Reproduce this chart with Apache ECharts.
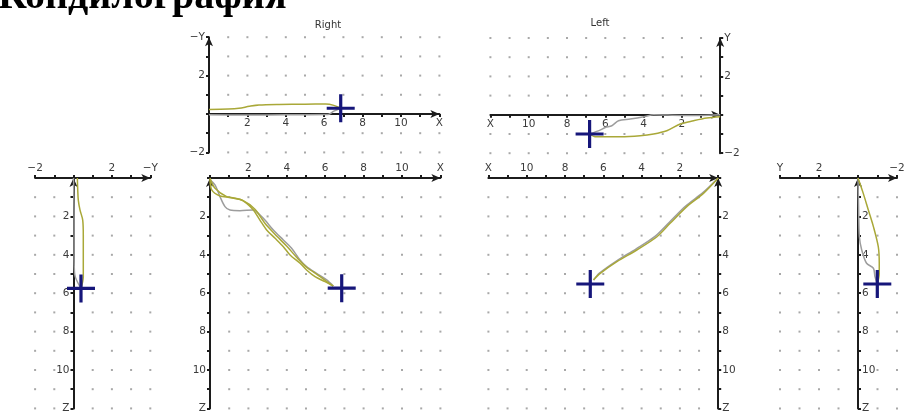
<!DOCTYPE html>
<html>
<head>
<meta charset="utf-8">
<script src="https://cdn.jsdelivr.net/npm/echarts@6/dist/echarts.min.js"></script>
<style>
  html, body { margin: 0; padding: 0; background: #ffffff; }
  #chart { width: 913px; height: 414px; }
</style>
</head>
<body>
<div id="chart"></div>
<script>
// ---- Condylography tracings (units: mm) ----

// Right joint, sagittal trace: X (forward) vs -Y
const rightXY_olive = [[0, 0.24], [1.0, 0.26], [1.56, 0.3], [2.1, 0.4], [2.6, 0.47], [3.65, 0.5], [5.0, 0.51], [6.08, 0.52], [6.5, 0.45], [6.86, 0.3]];
const rightXY_gray  = [[0, -0.04], [2.0, -0.05], [4.0, -0.04], [6.2, -0.03], [6.5, 0.15], [6.86, 0.3]];
const rightXY_end   = [6.86, 0.3];

// Left joint, sagittal trace: X vs Y
const leftXY_olive = [[0, -0.1], [0.7, -0.17], [1.39, -0.31], [2.09, -0.48], [2.79, -0.83], [3.48, -1.0], [4.18, -1.09], [5.22, -1.14], [6.53, -1.14], [6.82, -1.0]];
const leftXY_gray  = [[0, 0], [1.0, -0.03], [2.0, -0.03], [3.48, 0], [3.99, -0.1], [4.7, -0.22], [5.31, -0.31], [5.66, -0.57], [6.0, -0.66], [6.27, -0.8], [6.82, -1.0]];
const leftXY_end   = [6.82, -1.0];

// Right joint, frontal trace: -Y vs Z
const rightYZ_olive = [[0.2, 0], [0.22, 0.6], [0.25, 1.15], [0.34, 1.67], [0.48, 2.19], [0.51, 3.0], [0.51, 3.75], [0.51, 4.5], [0.51, 5.14], [0.39, 5.75]];
const rightYZ_gray  = [[0, 0], [0.03, 2.0], [0.03, 4.0], [0.06, 5.0], [0.39, 5.75]];
const rightYZ_end   = [0.39, 5.75];

// Right joint, sagittal trace: X vs Z (opening and closing paths)
const rightXZ_gray   = [[0, 0.1], [0.26, 0.36], [0.52, 0.97], [0.78, 1.49], [1.04, 1.67], [1.56, 1.7], [2.26, 1.67], [2.52, 1.84], [2.86, 2.19], [3.3, 2.71], [3.82, 3.23], [4.25, 3.66], [4.69, 4.27], [5.03, 4.62], [5.55, 4.97], [6.08, 5.31], [6.42, 5.63]];
const rightXZ_olive1 = [[0, 0.02], [0.09, 0.62], [0.52, 0.94], [1.04, 1.0], [1.56, 1.11], [1.91, 1.32], [2.26, 1.67], [2.6, 2.19], [2.95, 2.71], [3.39, 3.14], [3.82, 3.58], [4.17, 4.01], [4.69, 4.44], [5.03, 4.79], [5.47, 5.14], [5.99, 5.4], [6.42, 5.63]];
const rightXZ_olive2 = [[0, 0.02], [0.26, 0.54], [0.87, 0.97], [1.73, 1.18], [2.34, 1.63], [2.86, 2.36], [3.47, 3.02], [3.99, 3.54], [4.51, 4.13], [5.03, 4.65], [5.64, 5.07], [6.16, 5.45], [6.42, 5.63]];
const rightXZ_end    = [6.86, 5.74];

// Left joint, sagittal trace: X vs Z
const leftXZ_olive = [[0, 0], [0.77, 0.8], [1.64, 1.49], [2.51, 2.36], [3.2, 3.06], [4.25, 3.75], [5.29, 4.36], [6.16, 4.97], [6.51, 5.31]];
const leftXZ_gray  = [[0, 0], [0.8, 0.76], [1.7, 1.46], [2.55, 2.3], [3.3, 3.04], [4.3, 3.7], [5.3, 4.31], [6.2, 4.95], [6.51, 5.31]];
const leftXZ_end   = [6.68, 5.52];

// Left joint, frontal trace: Y vs Z
const leftYZ_olive = [[0, 0], [-0.27, 0.8], [-0.53, 1.67], [-0.79, 2.53], [-1.04, 3.58], [-1.09, 4.44], [-1.09, 4.97], [-0.99, 5.52]];
const leftYZ_gray  = [[0, 0], [-0.03, 1.5], [-0.07, 3.05], [-0.19, 3.75], [-0.44, 4.44], [-0.79, 4.7], [-0.87, 5.14], [-0.99, 5.52]];
const leftYZ_end   = [-0.99, 5.52];

// Axis names shown at the arrow end of each axis
const axisNames = { x: 'X', y: 'Y', negY: '\u2212Y', z: 'Z' };
const panelTitles = ['Right', 'Left'];
const chartTitle = 'Кондилография';

// ---- drawing ----
const OLIVE = '#a9a838';
const GRAY = '#9d9d9d';
const CROSS = '#16167a';
const INK = '#1c1c1c';
const LABEL = '#3b3b3b';

const grids = [
  { left: 209,   top: 37.2, width: 230.4, height: 115.2 }, // 0: right X / -Y
  { left: 490.4, top: 38,   width: 229.8, height: 115.2 }, // 1: left X / Y
  { left: 35.1,  top: 178,  width: 115.2, height: 230.4 }, // 2: right -Y / Z
  { left: 210,   top: 178,  width: 230.4, height: 230.4 }, // 3: right X / Z
  { left: 488.4, top: 178,  width: 229.8, height: 230.4 }, // 4: left X / Z
  { left: 780,   top: 178,  width: 117,   height: 230.4 }  // 5: left Y / Z
];

function num(v) { return v < 0 ? '\u2212' + Math.abs(v) : String(v); }

function axis(gridIndex, min, max, name, extra) {
  return Object.assign({
    type: 'value', gridIndex, min, max, interval: 1,
    axisLine: {
      onZero: false, symbol: ['none', 'arrow'], symbolSize: [6, 9],
      lineStyle: { color: INK, width: 2 }
    },
    axisTick: { show: true, length: 3, lineStyle: { color: INK, width: 2 } },
    axisLabel: {
      showMinLabel: true, showMaxLabel: true, margin: 4,
      color: LABEL, fontFamily: 'DejaVu Sans', fontSize: 10.5,
      formatter: v => (v === max ? name : (v !== 0 && v % 2 === 0 ? num(v) : ''))
    },
    splitLine: { show: false }
  }, extra || {});
}

// axes that sit on the zero line inside their grid are shifted there with a negative offset
const xAxes = [
  axis(0, 0, 12, axisNames.x, { position: 'bottom', offset: -38.4 }),
  axis(1, 0, 12, axisNames.x, { position: 'bottom', offset: -38.4, inverse: true }),
  axis(2, -2, 4, axisNames.negY, { position: 'top' }),
  axis(3, 0, 12, axisNames.x, { position: 'top' }),
  axis(4, 0, 12, axisNames.x, { position: 'top', inverse: true }),
  axis(5, -2, 4, axisNames.y, { position: 'top', inverse: true })
];
const yAxes = [
  axis(0, -2, 4, axisNames.negY, { position: 'left' }),
  axis(1, -2, 4, axisNames.y, { position: 'right' }),
  axis(2, 0, 12, axisNames.z, { position: 'left', offset: -38.4, inverse: true }),
  axis(3, 0, 12, axisNames.z, { position: 'left', inverse: true }),
  axis(4, 0, 12, axisNames.z, { position: 'right', inverse: true }),
  axis(5, 0, 12, axisNames.z, { position: 'right', offset: -39, inverse: true })
];

// dotted background grid at every whole unit, skipping the axis lines
function dotSeries(i) {
  const pts = [];
  for (let a = xAxes[i].min; a <= xAxes[i].max; a++) {
    for (let b = yAxes[i].min; b <= yAxes[i].max; b++) {
      if (a !== 0 && b !== 0) pts.push([a, b]);
    }
  }
  return {
    type: 'scatter', xAxisIndex: i, yAxisIndex: i, data: pts, silent: true,
    symbol: 'rect', symbolSize: 2, itemStyle: { color: '#a8a8a8', opacity: 1 }, z: 1
  };
}

function trace(i, data, color) {
  return {
    type: 'line', xAxisIndex: i, yAxisIndex: i, data, smooth: 0.3,
    showSymbol: false, silent: true,
    lineStyle: { color, width: 1.5 }, z: color === GRAY ? 3 : 4
  };
}

function endMark(i, point) {
  return {
    type: 'scatter', xAxisIndex: i, yAxisIndex: i, data: [point], silent: true,
    symbol: 'path://M0,12.4h28v3.2h-28z M12.4,0h3.2v28h-3.2z', symbolSize: 28,
    itemStyle: { color: CROSS, opacity: 1 }, z: 6
  };
}

const series = [];
for (let i = 0; i < 6; i++) series.push(dotSeries(i));
series.push(
  trace(0, rightXY_gray, GRAY), trace(0, rightXY_olive, OLIVE), endMark(0, rightXY_end),
  trace(1, leftXY_gray, GRAY), trace(1, leftXY_olive, OLIVE), endMark(1, leftXY_end),
  trace(2, rightYZ_gray, GRAY), trace(2, rightYZ_olive, OLIVE), endMark(2, rightYZ_end),
  trace(3, rightXZ_gray, GRAY), trace(3, rightXZ_olive1, OLIVE), trace(3, rightXZ_olive2, OLIVE), endMark(3, rightXZ_end),
  trace(4, leftXZ_gray, GRAY), trace(4, leftXZ_olive, OLIVE), endMark(4, leftXZ_end),
  trace(5, leftYZ_gray, GRAY), trace(5, leftYZ_olive, OLIVE), endMark(5, leftYZ_end)
);

const chart = echarts.init(document.getElementById('chart'), null, { renderer: 'canvas' });
chart.setOption({
  animation: false,
  backgroundColor: '#ffffff',
  grid: grids.map(g => Object.assign({ containLabel: false }, g)),
  xAxis: xAxes,
  yAxis: yAxes,
  series,
  graphic: [
    { type: 'text', x: -2, y: -2, style: { text: chartTitle, font: 'bold 40px "Liberation Serif"', fill: '#000', verticalAlign: 'middle' } },
    { type: 'text', x: 328, y: 25, style: { text: panelTitles[0], font: '10px "DejaVu Sans"', fill: '#333', align: 'center', verticalAlign: 'middle' } },
    { type: 'text', x: 600, y: 23, style: { text: panelTitles[1], font: '10px "DejaVu Sans"', fill: '#333', align: 'center', verticalAlign: 'middle' } }
  ]
});
</script>
</body>
</html>
